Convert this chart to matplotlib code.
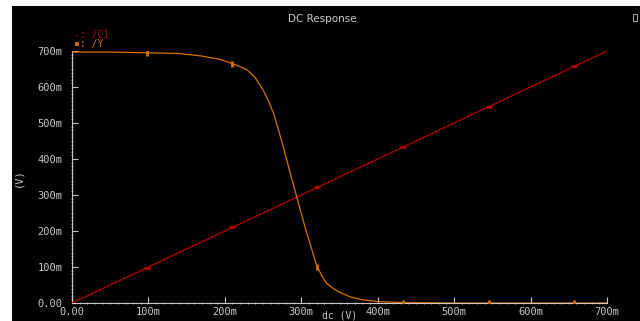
#!/usr/bin/env python3

import numpy as np
import matplotlib
matplotlib.use("Agg")
import matplotlib.pyplot as plt
from matplotlib.patches import Rectangle

# sweep values (V)
c1_x = [0.0, 0.7]
c1_y = [0.0, 0.7]

y_x = [0.0, 0.050, 0.100, 0.140, 0.170, 0.195, 0.208, 0.220, 0.230, 0.240,
       0.250, 0.257, 0.264, 0.270, 0.277, 0.285, 0.294, 0.305, 0.314, 0.320,
       0.327, 0.333, 0.342, 0.350, 0.364, 0.380, 0.400, 0.433, 0.500, 0.600,
       0.700]
y_y = [0.697, 0.697, 0.695, 0.693, 0.686, 0.676, 0.666, 0.657, 0.646, 0.625,
       0.592, 0.562, 0.525, 0.482, 0.430, 0.365, 0.295, 0.210, 0.147, 0.105,
       0.075, 0.055, 0.040, 0.030, 0.017, 0.009, 0.004, 0.001, 0.0, 0.0,
       0.0]

marker_x = [0.098, 0.210, 0.321, 0.433, 0.545, 0.657]

tick_vals = [0.0, 0.1, 0.2, 0.3, 0.4, 0.5, 0.6, 0.7]
tick_labels = ["0.00", "100m", "200m", "300m", "400m", "500m", "600m", "700m"]

RED = "#b80000"
ORANGE = "#d87000"
GREY = "#c8c8c8"
W, H = 640, 321

fig = plt.figure(figsize=(6.4, 3.21), dpi=100, facecolor="white")
# black waveform window
fig.patches.append(Rectangle((12 / W, 0), (W - 12) / W, (H - 6) / H,
                             transform=fig.transFigure, facecolor="black",
                             edgecolor="none", zorder=-5))
# small icon top right
fig.patches.append(Rectangle((633 / W, 1 - 21 / H), 4 / W, 7 / H,
                             transform=fig.transFigure, facecolor="black",
                             edgecolor="#a0a0a0", linewidth=0.8, zorder=-4))

ax = fig.add_axes([72 / W, 18 / H, (607 - 72) / W, (303 - 51) / H])
ax.set_zorder(2)
ax.patch.set_alpha(0)

ax.plot(c1_x, c1_y, color=RED, lw=0.9, zorder=3)
ax.plot(y_x, y_y, color=ORANGE, lw=0.9, zorder=3)
ax.plot(marker_x, np.interp(marker_x, c1_x, c1_y), ls="none", marker="_",
        ms=4, mew=2, color=RED, zorder=4)
ax.plot(marker_x, np.interp(marker_x, y_x, y_y), ls="none", marker="|",
        ms=4, mew=2, color=ORANGE, zorder=4)

ax.set_xlim(0, 0.7)
ax.set_ylim(0, 0.7)
for s in ["top", "right"]:
    ax.spines[s].set_visible(False)
for s in ["left", "bottom"]:
    ax.spines[s].set_color(GREY)
    ax.spines[s].set_linewidth(0.8)

ax.set_xticks(tick_vals)
ax.set_xticklabels(tick_labels)
ax.set_yticks(tick_vals)
ax.set_yticklabels(tick_labels)
ax.set_xticks(np.arange(0, 0.7001, 0.01), minor=True)
ax.set_yticks(np.arange(0, 0.7001, 0.01), minor=True)
ax.tick_params(which="major", direction="in", length=4, width=0.8, color=GREY,
               labelcolor=GREY, labelsize=7.5)
ax.tick_params(axis="x", which="major", pad=3)
ax.tick_params(axis="y", which="major", pad=7)
ax.tick_params(which="minor", direction="inout", length=2, width=0.5, color=GREY)
for lab in ax.get_xticklabels() + ax.get_yticklabels():
    lab.set_family("DejaVu Sans Mono")

fig.text(322 / W, 1 - 19 / H, "DC Response", color=GREY, fontsize=7.5,
         ha="center", va="center")
fig.text(74 / W, 1 - 35 / H, "-: /C1", color=RED, fontsize=7,
         family="DejaVu Sans Mono", ha="left", va="center")
fig.text(74 / W, 1 - 44 / H, "\u25aa: /Y", color=ORANGE, fontsize=7,
         family="DejaVu Sans Mono", ha="left", va="center")
fig.text(18 / W, 1 - 178 / H, "(V)", color=GREY, fontsize=7.5,
         family="DejaVu Sans Mono", rotation=90, ha="center", va="center")
fig.text(340 / W, 1 - 316 / H, "dc (V)", color=GREY, fontsize=7,
         family="DejaVu Sans Mono", ha="center", va="center")

fig.savefig("out.png", dpi=100, facecolor="white")
